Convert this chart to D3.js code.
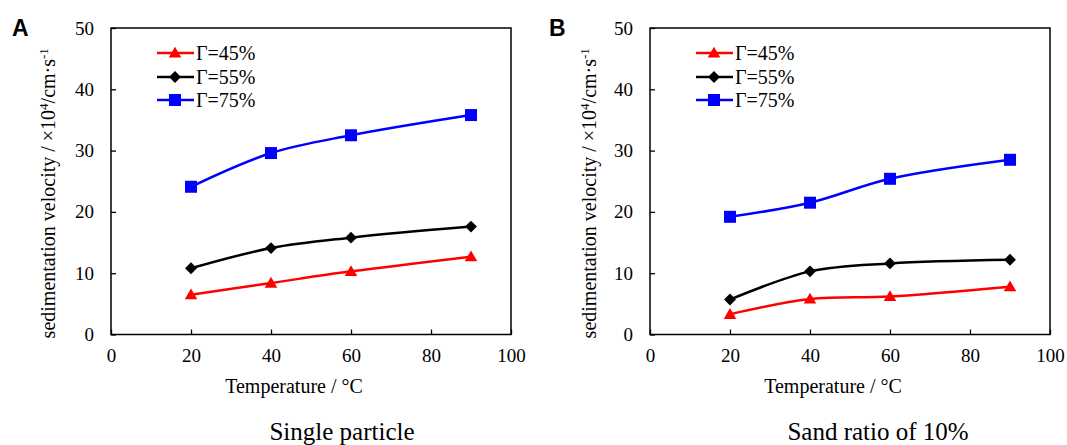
<!DOCTYPE html>
<html>
<head>
<meta charset="utf-8">
<script src="https://cdn.jsdelivr.net/npm/d3@7"></script>
<style>
  body { margin: 0; background: #fff; }
  svg text { font-family: "Liberation Serif", "Times New Roman", serif; fill: #000; }
  svg text.panel-letter { font-family: "Liberation Sans", Arial, sans-serif; font-weight: bold; }
</style>
</head>
<body>
<script>
'use-strict';

// temperatures (x values)
let temps = [20, 40, 60, 90];

// series names and colours
let seriesNames = ["Γ=45%", "Γ=55%", "Γ=75%"];
let seriesColors = ["#ff0000", "#000000", "#0000ff"];
let seriesShapes = ["triangle", "diamond", "square"];

// panel A: single particle
let singleG45 = [6.5, 8.4, 10.3, 12.7];
let singleG55 = [10.8, 14.1, 15.8, 17.6];
let singleG75 = [24.1, 29.6, 32.5, 35.8];

// panel B: sand ratio of 10%
let sandG45 = [3.3, 5.8, 6.2, 7.8];
let sandG55 = [5.7, 10.3, 11.6, 12.2];
let sandG75 = [19.2, 21.5, 25.4, 28.5];

// axis ticks
let xTicks = [0, 20, 40, 60, 80, 100];
let yTicks = [0, 10, 20, 30, 40, 50];

let panels = [
  { letter: "A", caption: "Single particle", series: [singleG45, singleG55, singleG75],
    left: 111, right: 511, labelX: 55, titleX: 294, captionX: 342, letterX: 12, legendX: 157 },
  { letter: "B", caption: "Sand ratio of 10%", series: [sandG45, sandG55, sandG75],
    left: 650, right: 1050, labelX: 596, titleX: 833, captionX: 878, letterX: 549, legendX: 696 }
];

let plotTop = 28, plotBottom = 334.5;
let serif = "'Liberation Serif', 'Times New Roman', serif";

let svg = d3.select("body").append("svg")
  .attr("width", 1067)
  .attr("height", 445);

panels.forEach(p => drawPanel(p));

// draws a single marker
function drawMarker(g, shape, cx, cy, color) {
  let sym;
  if (shape == "triangle") sym = d3.symbol().type(d3.symbolTriangle).size(68);
  else if (shape == "diamond") sym = d3.symbol().type(d3.symbolDiamond2).size(90);
  else sym = d3.symbol().type(d3.symbolSquare).size(144);
  g.append("path")
    .attr("d", sym())
    .attr("transform", "translate(" + cx + "," + (shape == "triangle" ? cy + 1 : cy) + ")")
    .attr("fill", color);
}

function drawPanel(p) {
  let g = svg.append("g");

  let xScale = d3.scaleLinear().domain([0, 100]).range([p.left, p.right]);
  let yScale = d3.scaleLinear().domain([0, 50]).range([plotBottom, plotTop]);

  // plot frame
  g.append("rect")
    .attr("x", p.left).attr("y", plotTop)
    .attr("width", p.right - p.left).attr("height", plotBottom - plotTop)
    .attr("fill", "none").attr("stroke", "#000").attr("stroke-width", 1.5);

  // x axis (ticks inside)
  let xAxis = g.append("g")
    .attr("transform", "translate(0," + plotBottom + ")")
    .call(d3.axisBottom(xScale).tickValues(xTicks).tickSizeInner(-5).tickSizeOuter(0).tickPadding(14))
    .attr("font-family", serif)
    .attr("font-size", 19);
  xAxis.select(".domain").remove();
  xAxis.selectAll("line").attr("stroke-width", 1.3);

  // y axis (ticks inside)
  let yAxis = g.append("g")
    .attr("transform", "translate(" + p.left + ",0)")
    .call(d3.axisLeft(yScale).tickValues(yTicks).tickSizeInner(-5).tickSizeOuter(0).tickPadding(17))
    .attr("font-family", serif)
    .attr("font-size", 19);
  yAxis.select(".domain").remove();
  yAxis.selectAll("line").attr("stroke-width", 1.3);

  // x axis title
  g.append("text")
    .attr("x", p.titleX).attr("y", 393)
    .attr("text-anchor", "middle")
    .style("font-size", "20px")
    .text("Temperature / °C");

  // y axis title
  let yLab = g.append("text")
    .attr("transform", "translate(" + p.labelX + "," + ((plotTop + plotBottom) / 2 + 12) + ") rotate(-90)")
    .attr("text-anchor", "middle")
    .style("font-size", "20px");
  yLab.append("tspan").text("sedimentation velocity / ×10");
  yLab.append("tspan").attr("dy", -7).style("font-size", "13px").text("4");
  yLab.append("tspan").attr("dy", 7).text("/cm·s");
  yLab.append("tspan").attr("dy", -7).style("font-size", "13px").text("-1");

  // caption
  g.append("text")
    .attr("x", p.captionX).attr("y", 440)
    .attr("text-anchor", "middle")
    .style("font-size", "25px")
    .text(p.caption);

  // panel letter
  g.append("text")
    .attr("class", "panel-letter")
    .attr("x", p.letterX).attr("y", 36)
    .style("font-size", "23px")
    .text(p.letter);

  // series lines and markers
  let line = d3.line()
    .x((d, i) => xScale(temps[i]))
    .y(d => yScale(d))
    .curve(d3.curveCatmullRom.alpha(0.5));

  p.series.forEach((values, s) => {
    g.append("path")
      .datum(values)
      .attr("d", line)
      .attr("fill", "none")
      .attr("stroke", seriesColors[s])
      .attr("stroke-width", 2.5);
    values.forEach((v, i) => drawMarker(g, seriesShapes[s], xScale(temps[i]), yScale(v), seriesColors[s]));
  });

  // legend
  let legendY = [53, 77, 100];
  seriesNames.forEach((name, s) => {
    g.append("line")
      .attr("x1", p.legendX).attr("x2", p.legendX + 37)
      .attr("y1", legendY[s]).attr("y2", legendY[s])
      .attr("stroke", seriesColors[s]).attr("stroke-width", 2.5);
    drawMarker(g, seriesShapes[s], p.legendX + 18, legendY[s], seriesColors[s]);
    g.append("text")
      .attr("x", p.legendX + 39).attr("y", legendY[s] + 7)
      .style("font-size", "20px")
      .text(name);
  });
}
</script>
</body>
</html>
